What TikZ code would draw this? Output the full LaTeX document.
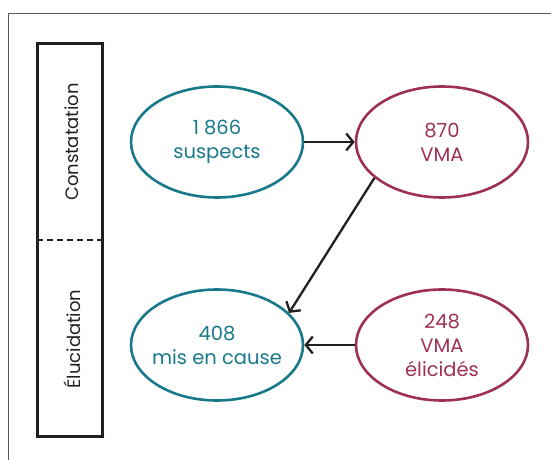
\documentclass[tikz,border=0pt]{standalone}
\usepackage{fontspec}
\setmainfont{Poppins}
\usetikzlibrary{arrows.meta,shapes.geometric}
\definecolor{teal1}{RGB}{24,121,138}
\definecolor{plum1}{RGB}{158,48,88}
\definecolor{ink}{RGB}{35,31,32}
\tikzset{
  oval/.style={ellipse, draw, line width=2.6pt, minimum width=172pt, minimum height=111pt, inner xsep=-25pt, inner ysep=-12pt, align=center, font=\fontsize{19.5}{24}\selectfont},
  tealoval/.style={oval, draw=teal1, text=teal1},
  plumoval/.style={oval, draw=plum1, text=plum1},
  flow/.style={draw=ink, line width=2.3pt, -{Straight Barb[length=7pt,width=17pt,line width=2.3pt]}},
  phase/.style={rotate=90, text=ink, font=\fontsize{18}{21}\selectfont}
}
\begin{document}
\begin{tikzpicture}[x=1pt,y=1pt]
\useasboundingbox (0,0) rectangle (551,460);
\draw[gray!70!black, line width=1pt] (8,0) -- (8,446) -- (551,446);
\draw[ink, line width=3pt] (37,23) rectangle (102,416);
\coordinate (dl) at (37,220);
\coordinate (dr) at (102,220);
\draw[ink, line width=2.2pt, dash pattern=on 6pt off 4pt] (dl) -- (dr);
\node[phase] (p1) at (72,318) {Constatation};
\node[phase] (p2) at (72,121) {Élucidation};
\node[tealoval] (sus) at (217,318) {1\hspace{5pt}866\\suspects};
\node[plumoval] (vma) at (442,318) {870\\VMA};
\node[tealoval] (mis) at (217,115) {408\\mis en cause};
\node[plumoval] (eli) at (442,115) {248\\VMA\\élicidés};
\draw[flow] (sus) -- (vma);
\draw[flow] (vma.208) -- (mis.24);
\draw[flow] (eli) -- (mis);
\end{tikzpicture}
\end{document}
